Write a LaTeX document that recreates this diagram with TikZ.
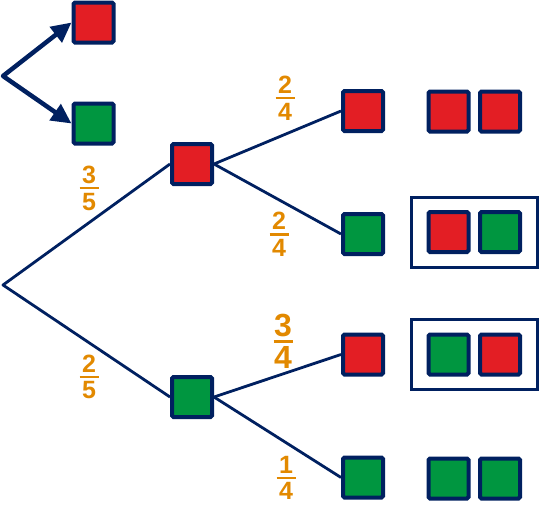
\documentclass[tikz,border=0pt]{standalone}
\usepackage{fontspec}
\setmainfont{Liberation Sans}
\usetikzlibrary{arrows.meta,fit}
\definecolor{boxred}{RGB}{227,30,36}
\definecolor{boxgreen}{RGB}{0,150,64}
\definecolor{navy}{RGB}{0,32,96}
\definecolor{fracorange}{RGB}{226,137,0}
\newcommand{\frc}[2]{\vbox{\offinterlineskip
  \hbox to 19pt{\hss#1\hss}\kern3.5pt
  \hrule height 2.5pt\kern3.5pt
  \hbox to 19pt{\hss#2\hss}}}
\begin{document}
\begin{tikzpicture}[x=1pt,y=-1pt,
  sq/.style={draw=navy,line width=4pt,minimum size=40pt,inner sep=0pt,rounded corners=1.5pt},
  redsq/.style={sq,fill=boxred},
  greensq/.style={sq,fill=boxgreen},
  branch/.style={navy,line width=2.8pt,line join=round},
  pairbox/.style={draw=navy,line width=3pt,inner xsep=15.5pt,inner ysep=13pt},
  frac/.style={text=fracorange,font=\fontsize{25}{25}\selectfont\bfseries,inner sep=0pt}]
\useasboundingbox (0,0) rectangle (540,504);
% key
\coordinate (fork) at (3,76);
\node[redsq] (keyr) at (93.5,22.5) {};
\node[greensq] (keyg) at (93.5,123.5) {};
\draw [navy,line width=4.5pt,line join=round,{Triangle[length=20pt,width=19pt]}-{Triangle[length=20pt,width=19pt]}] (keyr.west) -- (fork) -- (keyg.west);
% first draw
\coordinate (root) at (3,285);
\node[redsq] (r) at (192,164) {};
\node[greensq] (g) at (192,397) {};
\draw [branch] (r.west) -- (root) -- (g.west);
\node[frac] (fr) at (89,188) {\frc{3}{5}};
\node[frac] (fg) at (89,377) {\frc{2}{5}};
% second draw
\node[redsq] (rr) at (363,111) {};
\node[greensq] (rg) at (363,234) {};
\node[redsq] (gr) at (363,354.5) {};
\node[greensq] (gg) at (363,477.5) {};
\draw [branch] (r.east) -- (rr.west);
\draw [branch] (r.east) -- (rg.west);
\draw [branch] (g.east) -- (gr.west);
\draw [branch] (g.east) -- (gg.west);
\node[frac] (frr) at (285,98) {\frc{2}{4}};
\node[frac] (frg) at (279,234.5) {\frc{2}{4}};
\node[frac,font=\fontsize{32}{32}\selectfont\bfseries] (fgr) at (283,341) {\frc{3}{4}};
\node[frac] (fgg) at (286,478) {\frc{1}{4}};
% outcomes
\node[redsq] (rra) at (448.5,111.5) {};
\node[redsq] (rrb) at (500,111.5) {};
\node[redsq] (rga) at (448.5,232) {};
\node[greensq] (rgb) at (500,232) {};
\node[greensq] (gra) at (448.5,354.5) {};
\node[redsq] (grb) at (500,354.5) {};
\node[greensq] (gga) at (448.5,478.5) {};
\node[greensq] (ggb) at (500,478.5) {};
\node[pairbox,fit=(rga)(rgb)] (boxrg) {};
\node[pairbox,fit=(gra)(grb)] (boxgr) {};
\end{tikzpicture}
\end{document}
